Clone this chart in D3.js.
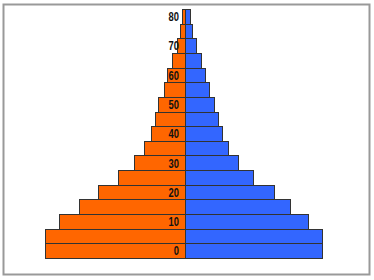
<!DOCTYPE html>
<html>
<head>
<meta charset="utf-8">
<script src="https://cdn.jsdelivr.net/npm/d3@7"></script>
<style>
body { margin: 0; background: #fff; }
</style>
</head>
<body>
<div id="viz"></div>
<script>
var width = 374;
var height = 280;
var center = 185;

// age groups, bottom to top
var ages = [0, 5, 10, 15, 20, 25, 30, 35, 40, 45, 50, 55, 60, 65, 70, 75, 80];
var leftValues = [140, 140, 126, 106, 87, 67, 51, 41, 34, 30, 27, 21, 18, 13, 8, 5, 3];
var rightValues = [137, 137, 123, 105, 89, 68, 53, 43, 37, 33, 29, 24, 20, 16, 11, 7, 5];
var tickLabels = ["0", "10", "20", "30", "40", "50", "60", "70", "80"];

var svg = d3.select("#viz").append("svg")
	.attr("width", width)
	.attr("height", height);

svg.append("rect")
	.attr("width", width)
	.attr("height", height)
	.style("fill", "#FFFFFF");

// frame
svg.append("rect")
	.attr("x", 3.5)
	.attr("y", 4.5)
	.attr("width", 366)
	.attr("height", 270)
	.style("fill", "none")
	.style("stroke", "#999999")
	.style("stroke-width", 2);

var y = d3.scaleBand()
	.domain(ages.map(String))
	.range([258, 9]);

var w = d3.scaleLinear()
	.domain([0, 150])
	.range([0, 150]);

var rows = ages.map(function(a, i) {
	return { age: String(a), left: leftValues[i], right: rightValues[i] };
});

var barTop = function(d) { return Math.round(y(d.age)) + 0.5; };
var barHeight = function(d) { return Math.round(y(d.age) + y.bandwidth()) - Math.round(y(d.age)); };

svg.selectAll(".left")
	.data(rows)
	.enter().append("rect")
		.attr("class", "left")
		.attr("x", function(d) { return Math.round(center - w(d.left)) + 0.5; })
		.attr("y", barTop)
		.attr("width", function(d) { return Math.round(w(d.left)); })
		.attr("height", barHeight)
		.style("fill", "#FF6600")
		.style("stroke", "#333333");

svg.selectAll(".right")
	.data(rows)
	.enter().append("rect")
		.attr("class", "right")
		.attr("x", center + 0.5)
		.attr("y", barTop)
		.attr("width", function(d) { return Math.round(w(d.right)); })
		.attr("height", barHeight)
		.style("fill", "#3366FF")
		.style("stroke", "#333333");

// narrow bold labels, squeezed horizontally
svg.selectAll(".tick")
	.data(tickLabels)
	.enter().append("text")
		.attr("class", "tick")
		.attr("transform", function(d) {
			return "translate(179," + (y(d) + y.bandwidth() / 2 + 4.8) + ") scale(0.75,1)";
		})
		.attr("text-anchor", "end")
		.style("font-family", "'Liberation Sans', Arial, sans-serif")
		.style("font-weight", "bold")
		.style("font-size", "12.5px")
		.style("fill", "#111111")
		.text(function(d) { return d; });
</script>
</body>
</html>
